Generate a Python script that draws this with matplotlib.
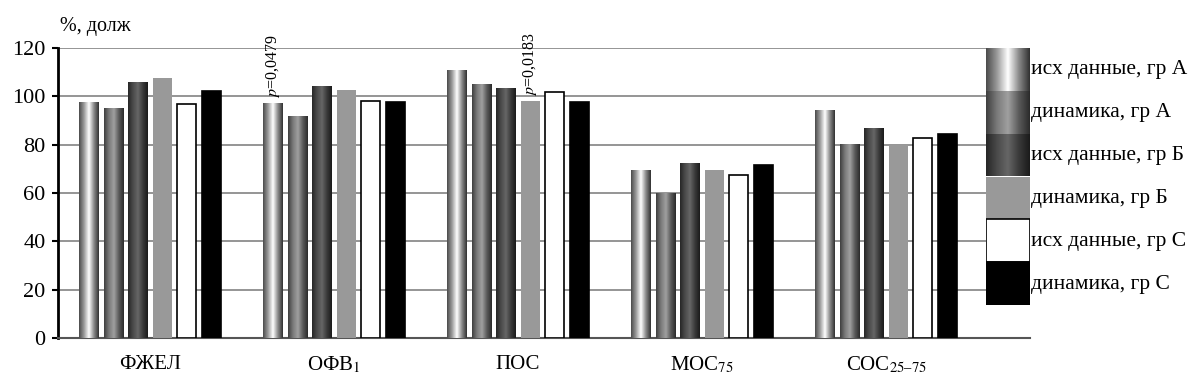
import numpy as np
import matplotlib
matplotlib.use("Agg")
import matplotlib.pyplot as plt
from matplotlib.colors import LinearSegmentedColormap
from matplotlib.patches import Rectangle

plt.rcParams['font.family'] = ['Liberation Serif', 'DejaVu Serif']
plt.rcParams['mathtext.fontset'] = 'stix'

categories = ['ФЖЕЛ', 'ОФВ$_1$', 'ПОС', 'МОС$_{75}$', 'СОС$_{25\u201375}$']
series = ['исх данные, гр А', 'динамика, гр А', 'исх данные, гр Б',
          'динамика, гр Б', 'исх данные, гр С', 'динамика, гр С']
a_base = [97.6, 97.2, 110.9, 69.5, 94.5]
a_dyn = [95.2, 91.8, 105.1, 60.0, 80.2]
b_base = [106.0, 104.3, 103.4, 72.3, 87.0]
b_dyn = [107.6, 102.6, 98.2, 69.4, 80.0]
c_base = [96.8, 98.0, 101.8, 67.3, 82.6]
c_dyn = [102.2, 97.6, 97.6, 71.5, 84.6]
values = [a_base, a_dyn, b_base, b_dyn, c_base, c_dyn]
p_notes = [(1, 0, '$p$=0,0479'), (2, 3, '$p$=0,0183')]

# fills: gradient colormaps for the first three series, flat for the rest
cmaps = [
    LinearSegmentedColormap.from_list('g1', ['#4a4a4a', '#9a9a9a', '#ffffff', '#8a8a8a', '#303030']),
    LinearSegmentedColormap.from_list('g2', ['#3e3e3e', '#7a7a7a', '#a0a0a0', '#5a5a5a', '#2a2a2a']),
    LinearSegmentedColormap.from_list('g3', ['#262626', '#4a4a4a', '#666666', '#3a3a3a', '#1a1a1a']),
    None, None, None,
]
flat = [None, None, None, '#999999', 'white', 'black']
edges = ['none', 'none', 'none', 'none', 'black', 'black']
grad = np.linspace(0, 1, 256).reshape(1, -1)

fig = plt.figure(figsize=(12, 3.87), dpi=100)
ax = fig.add_axes([58 / 1200, 1 - 338 / 387, (1030 - 58) / 1200, 290 / 387])

x = np.arange(len(categories))
pitch = 0.133
width = 0.105
for i, vals in enumerate(values):
    pos = x + (i - 2.5) * pitch
    bars = ax.bar(pos, vals, width, color=flat[i] if flat[i] else 'none',
                  edgecolor=edges[i], linewidth=1.2, zorder=3)
    if cmaps[i] is not None:
        for b in bars:
            im = ax.imshow(grad, cmap=cmaps[i], aspect='auto', zorder=2.9,
                           extent=[b.get_x(), b.get_x() + b.get_width(), 0, b.get_height()])
            im.set_clip_path(b)

for ci, si, txt in p_notes:
    xp = x[ci] + (si - 2.5) * pitch
    yp = values[si][ci] + 2
    ax.text(xp, yp, txt, rotation=90, ha='center', va='bottom', fontsize=11.5)

ax.set_xlim(-0.5, 4.5 + 52 / 184)
ax.set_ylim(0, 120)
ax.set_yticks(range(0, 121, 20))
ax.yaxis.grid(True, color='#8c8c8c', linewidth=1.3, zorder=0)
ax.set_axisbelow(True)
ax.set_xticks(x)
ax.set_xticklabels(categories, fontsize=15)
ax.tick_params(axis='x', length=0, pad=12)
ax.tick_params(axis='y', length=4, width=1.5, labelsize=16, pad=5)
for s in ['top', 'right']:
    ax.spines[s].set_visible(False)
ax.spines['left'].set_linewidth(2)
ax.spines['bottom'].set_linewidth(1.5)
ax.spines['bottom'].set_color('#555555')
fig.text(60 / 1200, 1 - 26 / 387, '%, долж', fontsize=14.5, ha='left', va='center')

# legend column
lax = fig.add_axes([986 / 1200, 1 - 305 / 387, 44 / 1200, 257 / 387])
lax.axis('off')
for i, name in enumerate(series):
    y0 = 5 - i
    r = Rectangle((0, y0), 1, 1, facecolor=flat[i] if flat[i] else 'none',
                  edgecolor=edges[i], linewidth=1.2, zorder=3)
    lax.add_patch(r)
    if cmaps[i] is not None:
        im = lax.imshow(grad, cmap=cmaps[i], aspect='auto', extent=[0, 1, y0, y0 + 1], zorder=2)
        im.set_clip_path(r)
    fig.text(1031 / 1200, 1 - (48 + 43 * (i + 0.5)) / 387, name, fontsize=15.5,
             ha='left', va='center')
lax.set_xlim(0, 1)
lax.set_ylim(0, 6)

fig.savefig('out.png', dpi=100)
